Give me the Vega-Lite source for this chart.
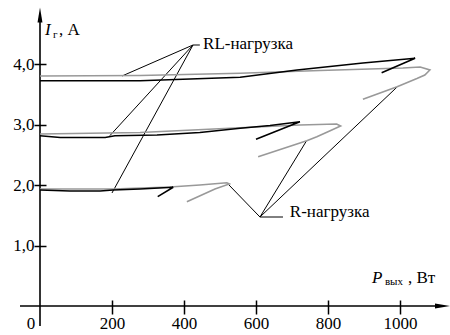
{
  "$schema": "https://vega.github.io/schema/vega-lite/v6.json",
  "width": 450,
  "height": 335,
  "autosize": {"type": "none"},
  "padding": 0,
  "background": "white",
  "config": {
    "view": {"stroke": null},
    "font": "Liberation Serif",
    "text": {"font": "Liberation Serif", "color": "black"},
    "axis": {"labelFont": "Liberation Serif", "labelFontSize": 17, "labelColor": "black", "labelFontWeight": "normal"}
  },
  "datasets": {
    "curves": [
      {"s": "R4", "load": "R", "o": 1, "P": 0, "I": 3.802},
      {"s": "R4", "load": "R", "o": 2, "P": 278, "I": 3.81},
      {"s": "R4", "load": "R", "o": 3, "P": 556, "I": 3.846},
      {"s": "R4", "load": "R", "o": 4, "P": 778, "I": 3.893},
      {"s": "R4", "load": "R", "o": 5, "P": 1008, "I": 3.934},
      {"s": "R4", "load": "R", "o": 6, "P": 1056, "I": 3.95},
      {"s": "R4", "load": "R", "o": 7, "P": 1083, "I": 3.901},
      {"s": "R4", "load": "R", "o": 8, "P": 1069, "I": 3.818},
      {"s": "R4", "load": "R", "o": 9, "P": 1047, "I": 3.76},
      {"s": "R4", "load": "R", "o": 10, "P": 992, "I": 3.625},
      {"s": "R4", "load": "R", "o": 11, "P": 897, "I": 3.417},
      {"s": "R3", "load": "R", "o": 1, "P": 0, "I": 2.843},
      {"s": "R3", "load": "R", "o": 2, "P": 278, "I": 2.868},
      {"s": "R3", "load": "R", "o": 3, "P": 556, "I": 2.947},
      {"s": "R3", "load": "R", "o": 4, "P": 722, "I": 2.992},
      {"s": "R3", "load": "R", "o": 5, "P": 824, "I": 3.008},
      {"s": "R3", "load": "R", "o": 6, "P": 835, "I": 2.975},
      {"s": "R3", "load": "R", "o": 7, "P": 806, "I": 2.898},
      {"s": "R3", "load": "R", "o": 8, "P": 769, "I": 2.798},
      {"s": "R3", "load": "R", "o": 9, "P": 741, "I": 2.732},
      {"s": "R3", "load": "R", "o": 10, "P": 606, "I": 2.468},
      {"s": "R2", "load": "R", "o": 1, "P": 0, "I": 1.934},
      {"s": "R2", "load": "R", "o": 2, "P": 203, "I": 1.934},
      {"s": "R2", "load": "R", "o": 3, "P": 361, "I": 1.967},
      {"s": "R2", "load": "R", "o": 4, "P": 444, "I": 2.0},
      {"s": "R2", "load": "R", "o": 5, "P": 519, "I": 2.038},
      {"s": "R2", "load": "R", "o": 6, "P": 526, "I": 2.017},
      {"s": "R2", "load": "R", "o": 7, "P": 486, "I": 1.934},
      {"s": "R2", "load": "R", "o": 8, "P": 408, "I": 1.724},
      {"s": "RL4", "load": "RL", "o": 1, "P": 0, "I": 3.724},
      {"s": "RL4", "load": "RL", "o": 2, "P": 278, "I": 3.724},
      {"s": "RL4", "load": "RL", "o": 3, "P": 417, "I": 3.752},
      {"s": "RL4", "load": "RL", "o": 4, "P": 556, "I": 3.78},
      {"s": "RL4", "load": "RL", "o": 5, "P": 714, "I": 3.901},
      {"s": "RL4", "load": "RL", "o": 6, "P": 897, "I": 4.017},
      {"s": "RL4", "load": "RL", "o": 7, "P": 1042, "I": 4.094},
      {"s": "RL4", "load": "RL", "o": 8, "P": 949, "I": 3.856},
      {"s": "RL3", "load": "RL", "o": 1, "P": 0, "I": 2.815},
      {"s": "RL3", "load": "RL", "o": 2, "P": 56, "I": 2.785},
      {"s": "RL3", "load": "RL", "o": 3, "P": 181, "I": 2.785},
      {"s": "RL3", "load": "RL", "o": 4, "P": 208, "I": 2.815},
      {"s": "RL3", "load": "RL", "o": 5, "P": 325, "I": 2.826},
      {"s": "RL3", "load": "RL", "o": 6, "P": 444, "I": 2.868},
      {"s": "RL3", "load": "RL", "o": 7, "P": 556, "I": 2.937},
      {"s": "RL3", "load": "RL", "o": 8, "P": 639, "I": 2.983},
      {"s": "RL3", "load": "RL", "o": 9, "P": 722, "I": 3.046},
      {"s": "RL3", "load": "RL", "o": 10, "P": 600, "I": 2.755},
      {"s": "RL2", "load": "RL", "o": 1, "P": 0, "I": 1.917},
      {"s": "RL2", "load": "RL", "o": 2, "P": 83, "I": 1.901},
      {"s": "RL2", "load": "RL", "o": 3, "P": 167, "I": 1.901},
      {"s": "RL2", "load": "RL", "o": 4, "P": 203, "I": 1.917},
      {"s": "RL2", "load": "RL", "o": 5, "P": 278, "I": 1.934},
      {"s": "RL2", "load": "RL", "o": 6, "P": 370, "I": 1.962},
      {"s": "RL2", "load": "RL", "o": 7, "P": 327, "I": 1.807}
    ],
    "leaders": [
      {"g": "RL", "P": 425, "I": 4.314, "P2": 228, "I2": 3.802},
      {"g": "RL", "P": 425, "I": 4.314, "P2": 194, "I2": 2.815},
      {"g": "RL", "P": 425, "I": 4.314, "P2": 200, "I2": 1.868},
      {"g": "RL", "P": 425, "I": 4.314, "P2": 444, "I2": 4.314},
      {"g": "R", "P": 611, "I": 1.471, "P2": 525, "I2": 2.0},
      {"g": "R", "P": 611, "I": 1.471, "P2": 740, "I2": 2.727},
      {"g": "R", "P": 611, "I": 1.471, "P2": 992, "I2": 3.62},
      {"g": "R", "P": 611, "I": 1.471, "P2": 675, "I2": 1.471}
    ],
    "axislines": [
      {"P": -55.6, "I": 0, "P2": 1108, "I2": 0},
      {"P": 0, "I": -0.33, "P2": 0, "I2": 4.75}
    ],
    "labels": [
      {"P": 453, "I": 4.243, "t": "RL-нагрузка"},
      {"P": 694, "I": 1.476, "t": "R-нагрузка"}
    ]
  },
  "encoding": {
    "x": {
      "field": "P", "type": "quantitative",
      "scale": {"domain": [-111.11, 1138.89], "nice": false, "zero": false},
      "axis": {
        "values": [200, 400, 600, 800, 1000], "title": null, "domain": false, "grid": false,
        "format": "d",
        "tickSize": 14, "tickColor": "black", "tickWidth": 1.5, "offset": -35,
        "labelPadding": 1, "labelFlush": false, "labelOverlap": false
      }
    },
    "y": {
      "field": "I", "type": "quantitative",
      "scale": {"domain": [-0.4793, 5.0579], "nice": false, "zero": false},
      "axis": {
        "values": [1, 2, 3, 4], "title": null, "domain": false, "grid": false,
        "tickSize": 12, "tickColor": "black", "tickWidth": 1.5, "offset": -46,
        "labelExpr": "replace(format(datum.value, '.1f'), '.', ',')",
        "labelPadding": 0, "labelFlush": false, "labelOverlap": false
      }
    }
  },
  "layer": [
    {
      "data": {"name": "axislines"},
      "mark": {"type": "rule", "color": "black", "strokeWidth": 1.6},
      "encoding": {"x2": {"field": "P2"}, "y2": {"field": "I2"}}
    },
    {
      "data": {"values": [{"P": 0, "I": 4.81}]},
      "mark": {"type": "point", "shape": "M0,-1L0.33,1L-0.33,1Z", "size": 225, "filled": true, "color": "black", "opacity": 1}
    },
    {
      "data": {"values": [{"P": 1118, "I": 0}]},
      "mark": {"type": "point", "shape": "M0,-1L0.33,1L-0.33,1Z", "size": 225, "filled": true, "color": "black", "opacity": 1, "angle": 90}
    },
    {
      "data": {"name": "leaders"},
      "mark": {"type": "rule", "color": "black", "strokeWidth": 1},
      "encoding": {"x2": {"field": "P2"}, "y2": {"field": "I2"}}
    },
    {
      "data": {"name": "curves"},
      "transform": [{"filter": "datum.load == 'R'"}],
      "mark": {"type": "line", "color": "#999999", "strokeWidth": 1.6},
      "encoding": {"detail": {"field": "s"}, "order": {"field": "o"}}
    },
    {
      "data": {"name": "curves"},
      "transform": [{"filter": "datum.load == 'RL'"}],
      "mark": {"type": "line", "color": "black", "strokeWidth": 1.6},
      "encoding": {"detail": {"field": "s"}, "order": {"field": "o"}}
    },
    {
      "data": {"name": "labels"},
      "mark": {"type": "text", "align": "left", "baseline": "alphabetic", "fontSize": 17},
      "encoding": {"text": {"field": "t"}}
    },
    {
      "data": {"values": [{"P": 0, "I": 0, "t": "0"}]},
      "mark": {"type": "text", "align": "center", "baseline": "top", "fontSize": 17, "dx": -9, "dy": 10},
      "encoding": {"text": {"field": "t"}}
    },
    {
      "data": {"values": [{"P": 13.9, "I": 4.479, "t": "I"}, {"P": 922, "I": 0.38, "t": "P"}]},
      "mark": {"type": "text", "align": "left", "baseline": "alphabetic", "fontSize": 17, "fontStyle": "italic"},
      "encoding": {"text": {"field": "t"}}
    },
    {
      "data": {"values": [{"P": 13.9, "I": 4.479, "t": "г"}]},
      "mark": {"type": "text", "align": "left", "baseline": "alphabetic", "fontSize": 11, "dx": 8, "dy": 3},
      "encoding": {"text": {"field": "t"}}
    },
    {
      "data": {"values": [{"P": 13.9, "I": 4.479, "t": ", А"}]},
      "mark": {"type": "text", "align": "left", "baseline": "alphabetic", "fontSize": 17, "dx": 14},
      "encoding": {"text": {"field": "t"}}
    },
    {
      "data": {"values": [{"P": 922, "I": 0.38, "t": "вых"}]},
      "mark": {"type": "text", "align": "left", "baseline": "alphabetic", "fontSize": 11, "dx": 13, "dy": 2},
      "encoding": {"text": {"field": "t"}}
    },
    {
      "data": {"values": [{"P": 922, "I": 0.38, "t": ", Вт"}]},
      "mark": {"type": "text", "align": "left", "baseline": "alphabetic", "fontSize": 17, "dx": 36},
      "encoding": {"text": {"field": "t"}}
    }
  ]
}
